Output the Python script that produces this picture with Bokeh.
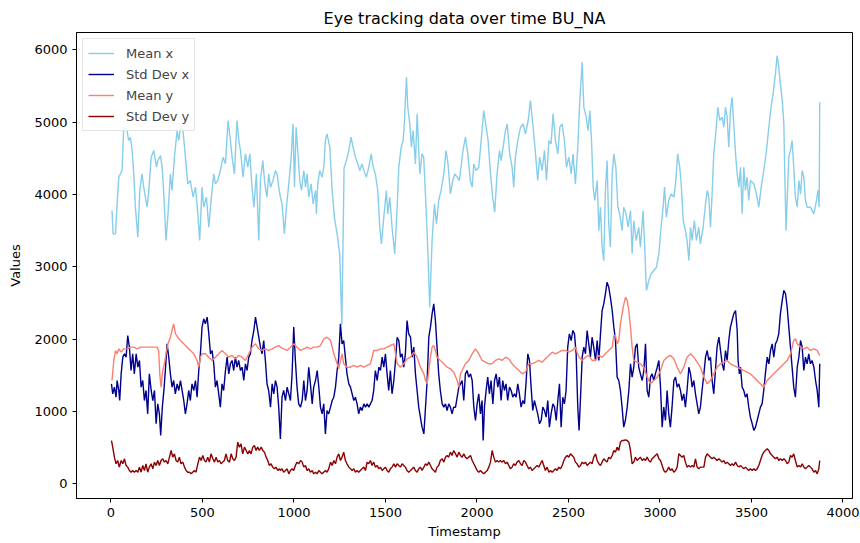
from bokeh.plotting import figure
from bokeh.models import Range1d, FixedTicker, Legend, LegendItem, ColumnDataSource
from bokeh.embed import file_html
from bokeh.resources import INLINE

# Eye tracking aggregates sampled along the timestamp axis
mean_x_t = [6, 12, 25, 34, 43, 61, 70, 88, 97, 106, 116, 125, 134, 147, 158, 170, 179, 198, 207, 220,
            234, 249, 256, 271, 280, 289, 301, 312, 325, 334, 347, 362, 371, 380, 394, 407, 420, 434, 449, 462,
            475, 485, 498, 507, 522, 535, 549, 562, 571, 584, 598, 613, 626, 640, 653, 662, 675, 689, 699, 708,
            722, 735, 748, 759, 771, 781, 795, 808, 817, 830, 841, 853, 862, 872, 886, 899, 908, 917,
            926, 935, 948, 959, 972, 985, 995, 1003, 1012, 1021, 1032, 1041, 1054, 1063, 1072, 1081, 1094, 1105,
            1118, 1123, 1130, 1141, 1154, 1163, 1172, 1181, 1196, 1209, 1221, 1236, 1250, 1262, 1274, 1287, 1300,
            1312, 1323, 1336, 1349, 1360, 1372, 1382, 1396, 1409, 1422, 1433, 1445, 1458, 1469, 1478, 1491, 1505,
            1513, 1524, 1536, 1551, 1564, 1573, 1586, 1597, 1604, 1615, 1622, 1633, 1642, 1651, 1664, 1673, 1688,
            1700, 1709, 1722, 1733, 1742, 1755, 1768, 1779, 1791, 1804, 1819, 1831, 1842, 1855, 1868, 1879, 1892,
            1904, 1924, 1937, 1950, 1964, 1974, 1983, 1995, 2010, 2023, 2037, 2050, 2061, 2074, 2086, 2097, 2110,
            2123, 2132, 2143, 2156, 2165, 2179, 2192, 2201, 2210, 2223, 2238, 2252, 2265, 2280, 2292, 2307, 2320,
            2332, 2343, 2356, 2369, 2380, 2393, 2405, 2416, 2429, 2442, 2453, 2465, 2478, 2489, 2502, 2515, 2525,
            2538, 2551, 2562, 2575, 2584, 2597, 2607, 2617, 2626, 2635, 2644, 2657, 2666, 2675, 2684, 2693, 2702,
            2711, 2720, 2729, 2739, 2748, 2759, 2770, 2780, 2793, 2802, 2815, 2826, 2839, 2848, 2857, 2870, 2884,
            2893, 2908, 2915, 2926, 2939, 2952, 2966, 2981, 2994, 3006, 3017, 3025, 3035, 3048, 3061, 3076, 3085,
            3097, 3108, 3116, 3127, 3139, 3148, 3158, 3167, 3176, 3188, 3199, 3212, 3221, 3236, 3249, 3258, 3267,
            3276, 3285, 3294, 3303, 3316, 3327, 3340, 3349, 3358, 3367, 3376, 3385, 3394, 3403, 3413, 3422, 3431,
            3440, 3449, 3458, 3467, 3476, 3485, 3494, 3513, 3527, 3540, 3553, 3567, 3582, 3595, 3607, 3618, 3631,
            3640, 3649, 3658, 3668, 3677, 3682, 3689, 3695, 3704, 3713, 3722, 3731, 3740, 3750, 3759, 3768, 3777,
            3786, 3795, 3804, 3822, 3841, 3855, 3864, 3870, 3873]
mean_x = [3780, 3457, 3457, 3872, 4241, 4333, 4932, 4886, 4748, 4794, 4610, 4287, 3826, 3411, 4057, 4287, 4103, 3826, 4057, 4518,
          4610, 4379, 4471, 4540, 4379, 4010, 3365, 3734, 4287, 4057, 4518, 4886, 4748, 4932, 4886, 4518, 4149, 4195, 3964, 4103,
          3734, 3365, 4103, 3826, 3964, 3549, 3964, 4287, 4149, 4195, 4333, 4518, 4425, 5025, 4748, 4518, 4287, 5025, 4748, 4610,
          4241, 4564, 4379, 4564, 4103, 3826, 4287, 3365, 4195, 4471, 4149, 3964, 4287, 4103, 4195, 4333, 4287, 4103,
          3964, 3872, 3457, 3826, 4149, 4518, 4978, 4103, 4932, 4610, 4195, 4057, 4333, 4103, 4287, 3964, 4149, 3872,
          4057, 3734, 4149, 4333, 4241, 4379, 4748, 4840, 4656, 4057, 3688, 3457, 3181, 2200, 4370, 4471, 4610,
          4794, 4656, 4518, 4425, 4333, 4425, 4333, 4241, 4379, 4564, 4379, 4287, 4057, 3549, 3319, 3688, 4057,
          3734, 3964, 3549, 3181, 3826, 4379, 4656, 4748, 5025, 5624, 5209, 4978, 4656, 4886, 4425, 5117, 4287,
          4564, 4518, 3826, 3135, 2443, 3365, 3872, 3596, 3918, 4057, 4287, 4610, 4425, 4010, 4195, 4287, 4241,
          4195, 4610, 4794, 4564, 4195, 4103, 4425, 4333, 4379, 4748, 5163, 4932, 4748, 4287, 3964, 3757, 4287,
          4610, 4471, 4656, 4886, 4978, 4564, 4379, 4103, 4518, 4748, 4932, 4978, 4840, 5025, 5301, 4932, 4564,
          4195, 4518, 4333, 4610, 4195, 4748, 4702, 5117, 4748, 4564, 4932, 4978, 4748, 4379, 4518, 4287, 4564,
          4149, 4656, 5301, 5831, 5209, 5071, 4886, 5163, 4748, 4103, 3918, 4195, 3503, 3826, 3273, 3088, 4057,
          4471, 3596, 3273, 4287, 4564, 4379, 3826, 3734, 3503, 3826, 3734, 3549, 3780, 3181, 3642, 3365, 3549,
          3273, 3780, 3365, 2674, 2812, 2904, 2950, 2996, 3181, 3549, 3826, 4103, 3688, 3918, 4010, 3964, 4149,
          4564, 4379, 4149, 3642, 3503, 3365, 3088, 3549, 3365, 3642, 3365, 3549, 3319, 3549, 3872, 4057, 3964,
          3549, 4010, 4564, 4794, 5209, 5025, 5071, 4932, 5209, 5071, 4656, 5163, 5347, 4978, 4564, 4287, 4103,
          4379, 3734, 4379, 4057, 4241, 3918, 4195, 4149, 4010, 3826, 4103, 4333, 4610, 4932, 5209, 5393, 5670,
          5924, 5762, 5532, 5301, 4978, 4287, 3503, 3918, 4518, 4610, 4748, 4379, 3964, 3826, 4195, 4010, 4333,
          4241, 3918, 3826, 3826, 3734, 3918, 4057, 3826, 5278]

std_x_t = [3, 10, 19, 28, 34, 43, 48, 56, 65, 74, 83, 92, 101, 110, 119, 128, 138, 147, 156, 165,
           174, 183, 192, 201, 210, 220, 229, 238, 247, 256, 265, 272, 281, 291, 300, 307, 316, 325, 334, 343,
           352, 362, 371, 380, 389, 398, 407, 416, 425, 434, 443, 453, 462, 471, 480, 489, 498, 507, 516, 526,
           535, 544, 553, 562, 571, 580, 589, 598, 607, 616, 626, 635, 644, 653, 662, 671, 680, 689, 698, 708,
           717, 726, 735, 744, 753, 762, 771, 781, 790, 799, 808, 817, 826, 835, 844, 853, 862, 872, 881, 890,
           899, 908, 917, 926, 935, 944, 954, 963, 972, 981, 990, 999, 1008, 1017, 1026, 1036, 1045, 1054, 1063,
           1072, 1081, 1090, 1100, 1108, 1118, 1127, 1136, 1145, 1154, 1163, 1172, 1181, 1190, 1200, 1209, 1218,
           1227, 1236, 1245, 1254, 1263, 1272, 1281, 1290, 1300, 1309, 1318, 1327, 1336, 1345, 1354, 1363, 1372,
           1382, 1391, 1400, 1409, 1418, 1427, 1436, 1445, 1455, 1464, 1473, 1482, 1491, 1500, 1509, 1518, 1527,
           1536, 1546, 1555, 1564, 1573, 1582, 1591, 1600, 1609, 1618, 1627, 1637, 1646, 1655, 1664, 1673, 1682,
           1691, 1700, 1710, 1719, 1728, 1737, 1746, 1755, 1764, 1773, 1782, 1791, 1800, 1810, 1819, 1828, 1837,
           1846, 1855, 1864, 1873, 1883, 1892, 1901, 1910, 1919, 1928, 1937, 1946, 1955, 1965, 1974, 1983, 1992,
           2001, 2010, 2019, 2028, 2034, 2041, 2050, 2059, 2068, 2077, 2087, 2096, 2105, 2114, 2123, 2132, 2141,
           2150, 2159, 2168, 2178, 2187, 2196, 2205, 2214, 2223, 2232, 2241, 2251, 2260, 2269, 2278, 2287, 2296,
           2305, 2314, 2323, 2332, 2342, 2351, 2360, 2369, 2378, 2387, 2396, 2405, 2415, 2424, 2433, 2442, 2451,
           2460, 2469, 2478, 2487, 2496, 2505, 2515, 2524, 2533, 2542, 2551, 2558, 2566, 2575, 2584, 2593, 2602,
           2611, 2620, 2629, 2638, 2648, 2657, 2666, 2675, 2684, 2693, 2702, 2711, 2720, 2729, 2739, 2748, 2757,
           2766, 2775, 2784, 2793, 2802, 2811, 2821, 2830, 2839, 2848, 2857, 2866, 2875, 2884, 2893, 2903, 2912,
           2921, 2930, 2939, 2948, 2957, 2966, 2975, 2985, 2994, 3003, 3012, 3021, 3030, 3039, 3048, 3057, 3066,
           3076, 3085, 3094, 3103, 3112, 3121, 3130, 3139, 3148, 3158, 3167, 3176, 3185, 3194, 3203, 3212, 3221,
           3230, 3240, 3249, 3258, 3267, 3276, 3285, 3294, 3303, 3312, 3322, 3331, 3340, 3349, 3358, 3367, 3376,
           3385, 3394, 3403, 3413, 3422, 3427, 3434, 3440, 3449, 3458, 3467, 3476, 3485, 3494, 3504, 3513, 3522,
           3531, 3540, 3549, 3558, 3567, 3576, 3586, 3595, 3604, 3613, 3622, 3631, 3640, 3649, 3658, 3668, 3677,
           3686, 3695, 3704, 3713, 3722, 3731, 3740, 3750, 3759, 3768, 3777, 3786, 3795, 3804, 3813, 3822, 3831,
           3841, 3850, 3859, 3868, 3873]
std_x = [1383, 1245, 1337, 1198, 1429, 1291, 1152, 1521, 1752, 1798, 1752, 2051, 1890, 1567, 1798, 1521, 1798, 1613, 1706, 1337,
         1429, 1152, 1291, 968, 1521, 1291, 1152, 1291, 830, 1106, 968, 669, 1060, 1337, 1660, 1936, 1752, 1521, 1337, 1429,
         1245, 1383, 1291, 1429, 1291, 1152, 968, 1106, 1291, 1152, 1383, 1291, 1429, 1198, 1567, 1798, 2167, 2282, 2213, 2305,
         2074, 1798, 1844, 1660, 1337, 1429, 1245, 1060, 1383, 1291, 1567, 1752, 1521, 1660, 1706, 1567, 1752, 1613, 1706, 1567,
         1613, 1429, 1660, 1567, 1752, 1798, 1982, 2121, 2305, 2167, 2028, 1890, 1798, 1982, 1706, 1383, 1291, 1060, 1383, 1245,
         1429, 1337, 1060, 620, 1198, 1291, 1152, 1337, 1245, 1152, 1521, 2167, 1706, 1337, 1106, 1060, 1152, 1429, 1152,
         1291, 1613, 1383, 1106, 1337, 1429, 1567, 1337, 1060, 968, 1106, 691, 1014, 968, 1060, 1152, 1198,
         1337, 1567, 1752, 2213, 1936, 1982, 1752, 1521, 1383, 1337, 1245, 1152, 1198, 1106, 968, 1060, 1014,
         1106, 1060, 1106, 1060, 1106, 1152, 1291, 1567, 1429, 1613, 1567, 1752, 1613, 1798, 1521, 1291, 1567,
         1245, 1429, 1706, 2028, 1982, 1752, 1798, 1613, 1798, 2259, 2074, 2028, 1752, 1890, 1521, 1291, 1060,
         922, 784, 691, 1060, 1429, 2028, 2167, 2351, 2489, 2259, 1890, 1521, 1291, 1106, 1060, 1106, 1014,
         1106, 1060, 968, 1060, 1060, 1198, 1337, 1383, 1429, 1152, 1521, 1567, 1475, 1521, 1429, 1060, 876,
         1106, 1245, 968, 1152, 599, 1060, 1291, 1475, 1245, 1429, 1106, 1429, 1521, 1337, 1475, 1152, 1429,
         1291, 1383, 1152, 1337, 1291, 1198, 1245, 1198, 1383, 1245, 1060, 1152, 1106, 1429, 1798, 1706, 1337,
         1014, 1152, 1060, 968, 830, 876, 1060, 1014, 922, 1152, 784, 968, 1106, 1060, 876, 1152, 1383,
         784, 1198, 1106, 1291, 1890, 2074, 1982, 2121, 2074, 1798, 1060, 738, 1198, 1752, 1890, 1798, 2121,
         1936, 1752, 2028, 1890, 1706, 1982, 1706, 2074, 2397, 2489, 2628, 2789, 2720, 2582, 2397, 2167, 1982,
         1475, 1429, 1291, 1060, 784, 876, 1060, 1291, 1660, 1475, 1613, 1890, 1936, 1613, 1521, 1429, 1567,
         1936, 1291, 1198, 1475, 1521, 1429, 1521, 1613, 1706, 1337, 784, 1060, 876, 1291, 968, 784, 1060,
         1429, 1475, 1337, 1383, 1291, 1152, 1245, 1060, 1291, 1613, 1521, 1337, 1429, 1245, 1106, 968, 1060,
         1291, 1521, 1752, 1844, 1706, 1752, 1429, 1245, 1567, 1890, 2028, 1844, 1660, 1567, 1844, 1706, 1982,
         2167, 2259, 2351, 2397, 2121, 1706, 1521, 1613, 1337, 1291, 1198, 1245, 1060, 922, 830, 738, 784,
         876, 968, 1060, 1106, 1291, 1521, 1752, 1660, 1844, 1936, 1752, 1936, 1982, 2074, 2351, 2536, 2674,
         2628, 2443, 2167, 1890, 1613, 1337, 1198, 1613, 1752, 1982, 1890, 1567, 1752, 1660, 1798, 1660, 1706,
         1613, 1429, 1291, 1060, 1660]

mean_y_t = [6, 16, 25, 34, 43, 56, 70, 88, 107, 125, 143, 161, 179, 198, 216, 234, 252, 261, 267, 274,
            283, 292, 301, 312, 325, 334, 343, 353, 365, 380, 398, 416, 434, 453, 471, 480, 489, 498, 516, 535,
            553, 571, 589, 607, 626, 644, 662, 680, 698, 717, 735, 753, 771, 790, 808, 826, 844, 862, 881, 899,
            917, 926, 944, 963, 981, 999, 1017, 1036, 1054, 1072, 1090, 1108, 1127, 1145, 1163, 1181, 1200, 1218,
            1236, 1245, 1254, 1263, 1272, 1290, 1309, 1327, 1345, 1363, 1382, 1400, 1418, 1436, 1455, 1473, 1491,
            1509, 1527, 1546, 1555, 1564, 1582, 1600, 1618, 1637, 1655, 1673, 1691, 1710, 1719, 1728, 1737, 1746,
            1755, 1764, 1773, 1782, 1800, 1819, 1837, 1855, 1873, 1892, 1901, 1910, 1919, 1937, 1955, 1974, 1992,
            2010, 2028, 2046, 2065, 2083, 2101, 2119, 2137, 2156, 2174, 2192, 2210, 2229, 2247, 2265, 2283, 2301,
            2320, 2338, 2356, 2374, 2393, 2411, 2429, 2447, 2466, 2484, 2502, 2520, 2538, 2557, 2575, 2593, 2611,
            2629, 2648, 2666, 2684, 2702, 2720, 2739, 2748, 2757, 2766, 2775, 2784, 2799, 2812, 2821, 2830, 2839,
            2848, 2857, 2875, 2893, 2912, 2930, 2948, 2966, 2985, 3003, 3021, 3039, 3057, 3076, 3094, 3112, 3130,
            3148, 3167, 3185, 3203, 3221, 3240, 3258, 3276, 3294, 3312, 3331, 3349, 3367, 3385, 3403, 3422, 3440,
            3458, 3476, 3494, 3513, 3531, 3549, 3567, 3576, 3586, 3604, 3622, 3640, 3658, 3677, 3695, 3713, 3731,
            3740, 3750, 3768, 3786, 3804, 3822, 3841, 3859, 3873]
mean_y = [1429, 1706, 1844, 1798, 1867, 1821, 1867, 1867, 1890, 1890, 1867, 1890, 1890, 1890, 1890, 1890, 1890, 1844, 1521, 1337,
          1567, 1660, 1798, 1936, 2028, 2121, 2213, 2074, 2028, 1982, 1936, 1890, 1844, 1798, 1706, 1613, 1752, 1798, 1798, 1752,
          1706, 1752, 1798, 1844, 1798, 1752, 1775, 1729, 1775, 1752, 1706, 1798, 1890, 1936, 1867, 1844, 1867, 1844, 1867, 1890,
          1913, 1890, 1867, 1844, 1890, 1936, 1890, 1844, 1867, 1890, 1867, 1890, 1890, 1913, 2005, 2028, 1982, 1798,
          1660, 1590, 1706, 1798, 1660, 1613, 1613, 1637, 1613, 1637, 1613, 1637, 1660, 1844, 1844, 1867, 1867,
          1890, 1913, 1936, 1798, 1660, 1613, 1660, 1729, 1752, 1821, 1752, 1613, 1521, 1429, 1383, 1567, 1752,
          1890, 1913, 1844, 1752, 1706, 1660, 1613, 1590, 1544, 1429, 1337, 1521, 1567, 1660, 1706, 1798, 1867,
          1798, 1706, 1683, 1660, 1660, 1706, 1729, 1706, 1752, 1729, 1660, 1613, 1567, 1521, 1544, 1660, 1660,
          1683, 1706, 1683, 1729, 1775, 1821, 1798, 1821, 1844, 1844, 1821, 1844, 1890, 1752, 1706, 1752, 1775,
          1706, 1706, 1775, 1752, 1798, 1844, 1890, 2051, 2051, 1936, 1982, 2213, 2443, 2582, 2536, 2397, 2167,
          1890, 1706, 1683, 1660, 1613, 1475, 1383, 1429, 1475, 1567, 1706, 1752, 1775, 1729, 1613, 1521, 1613,
          1752, 1798, 1752, 1683, 1613, 1475, 1383, 1429, 1521, 1613, 1660, 1683, 1706, 1660, 1637, 1613, 1590,
          1567, 1544, 1521, 1475, 1429, 1383, 1337, 1383, 1429, 1475, 1521, 1567, 1613, 1660, 1706, 1798, 1982,
          2005, 1936, 1890, 1867, 1890, 1844, 1867, 1844, 1775]

std_y_t = [3, 10, 19, 28, 37, 46, 56, 65, 74, 83, 92, 101, 110, 119, 128, 138, 147, 156, 165, 174,
           183, 192, 201, 210, 220, 229, 238, 247, 256, 265, 274, 283, 292, 301, 311, 320, 329, 338, 347, 356,
           365, 374, 383, 393, 402, 411, 420, 429, 438, 447, 456, 465, 475, 484, 493, 502, 511, 520, 529, 538,
           547, 557, 566, 575, 584, 593, 602, 611, 620, 629, 638, 648, 657, 666, 675, 684, 693, 702, 711, 720,
           730, 739, 748, 757, 766, 775, 784, 793, 802, 811, 821, 830, 839, 848, 857, 866, 875, 884, 893, 902,
           912, 921, 926, 935, 944, 954, 963, 972, 981, 990, 999, 1008, 1017, 1026, 1036, 1045, 1054, 1063, 1072,
           1081, 1090, 1100, 1108, 1118, 1127, 1136, 1145, 1154, 1163, 1172, 1181, 1190, 1200, 1209, 1218, 1227,
           1236, 1245, 1254, 1263, 1272, 1281, 1290, 1300, 1309, 1318, 1327, 1336, 1345, 1354, 1363, 1372, 1382,
           1391, 1400, 1409, 1418, 1427, 1436, 1445, 1455, 1464, 1473, 1482, 1491, 1500, 1509, 1518, 1527, 1536,
           1546, 1555, 1564, 1573, 1582, 1591, 1600, 1609, 1618, 1627, 1637, 1646, 1655, 1664, 1673, 1682, 1691,
           1700, 1710, 1719, 1728, 1737, 1746, 1755, 1764, 1773, 1782, 1791, 1800, 1810, 1819, 1828, 1837, 1846,
           1855, 1864, 1873, 1883, 1892, 1901, 1910, 1919, 1928, 1937, 1946, 1955, 1965, 1974, 1983, 1992, 2001,
           2010, 2019, 2028, 2037, 2046, 2056, 2065, 2074, 2083, 2092, 2101, 2110, 2119, 2128, 2137, 2147, 2156,
           2165, 2174, 2183, 2192, 2201, 2210, 2219, 2229, 2238, 2247, 2256, 2265, 2274, 2283, 2292, 2301, 2311,
           2320, 2329, 2338, 2347, 2356, 2365, 2374, 2383, 2393, 2402, 2411, 2420, 2429, 2438, 2447, 2456, 2466,
           2475, 2484, 2493, 2502, 2511, 2520, 2529, 2538, 2547, 2557, 2566, 2575, 2584, 2593, 2602, 2611, 2620,
           2629, 2638, 2648, 2657, 2666, 2675, 2684, 2693, 2702, 2711, 2720, 2729, 2739, 2748, 2757, 2766, 2775,
           2784, 2793, 2802, 2811, 2821, 2830, 2839, 2848, 2857, 2866, 2875, 2884, 2893, 2903, 2912, 2921, 2930,
           2939, 2948, 2957, 2966, 2975, 2985, 2994, 3003, 3012, 3021, 3030, 3039, 3048, 3057, 3066, 3076, 3085,
           3094, 3103, 3112, 3121, 3130, 3139, 3148, 3158, 3167, 3176, 3185, 3194, 3203, 3212, 3221, 3230, 3240,
           3249, 3258, 3267, 3276, 3285, 3294, 3303, 3312, 3322, 3331, 3340, 3349, 3358, 3367, 3376, 3385, 3394,
           3403, 3413, 3422, 3431, 3440, 3449, 3458, 3467, 3476, 3485, 3494, 3504, 3513, 3522, 3531, 3540, 3549,
           3558, 3567, 3576, 3586, 3595, 3604, 3613, 3622, 3631, 3640, 3649, 3658, 3668, 3677, 3686, 3695, 3704,
           3713, 3722, 3731, 3740, 3750, 3759, 3768, 3777, 3786, 3795, 3804, 3813, 3822, 3831, 3841, 3850, 3859,
           3868, 3873]
std_y = [599, 507, 369, 277, 323, 231, 323, 277, 346, 254, 231, 184, 161, 184, 161, 184, 161, 231, 161, 254,
         184, 277, 161, 231, 277, 207, 300, 254, 323, 254, 323, 346, 300, 323, 277, 369, 461, 369, 415, 323,
         300, 369, 277, 300, 231, 184, 161, 161, 138, 161, 184, 161, 277, 369, 323, 392, 323, 300, 369, 300,
         415, 346, 300, 369, 300, 323, 277, 300, 323, 415, 323, 300, 415, 346, 323, 369, 576, 507, 553, 415,
         507, 461, 415, 461, 415, 507, 530, 461, 507, 461, 507, 461, 438, 369, 323, 254, 277, 231, 207, 231,
         184, 207, 184, 207, 161, 184, 207, 138, 184, 207, 184, 254, 300, 277, 323, 300, 231, 254, 184,
         207, 161, 184, 138, 161, 138, 184, 161, 138, 161, 184, 161, 207, 300, 254, 323, 277,
         369, 415, 323, 369, 438, 323, 277, 231, 207, 184, 207, 161, 184, 161, 184, 207, 231,
         184, 300, 277, 323, 254, 300, 231, 254, 207, 231, 184, 207, 231, 184, 161, 207, 231,
         277, 231, 277, 254, 231, 277, 254, 231, 184, 161, 184, 207, 231, 184, 161, 207, 231,
         184, 231, 277, 254, 300, 254, 207, 184, 161, 231, 254, 323, 346, 300, 369, 392, 369,
         438, 392, 461, 415, 369, 438, 392, 369, 415, 369, 346, 369, 392, 323, 277, 231, 184,
         161, 184, 161, 138, 161, 184, 231, 300, 461, 369, 300, 323, 300, 323, 300, 323, 277,
         300, 254, 207, 231, 277, 254, 300, 323, 277, 254, 323, 300, 254, 207, 231, 184, 207,
         231, 254, 231, 277, 323, 254, 184, 231, 161, 184, 161, 184, 207, 184, 231, 207, 254,
         323, 369, 392, 369, 415, 392, 369, 300, 277, 231, 254, 300, 277, 300, 254, 277, 300,
         277, 369, 415, 323, 277, 254, 300, 346, 323, 300, 369, 346, 392, 461, 438, 507, 461,
         576, 599, 599, 608, 599, 576, 461, 277, 300, 369, 323, 346, 369, 323, 346, 323, 369,
         323, 300, 346, 369, 392, 415, 346, 323, 254, 184, 161, 184, 231, 184, 207, 161, 184,
         231, 415, 392, 369, 392, 300, 231, 254, 231, 254, 231, 346, 231, 207, 231, 231, 231,
         369, 415, 392, 369, 346, 369, 346, 323, 346, 323, 300, 323, 277, 300, 277, 254, 277,
         254, 300, 254, 231, 254, 231, 207, 231, 207, 184, 207, 184, 207, 184, 207, 254, 323,
         392, 438, 461, 484, 461, 415, 392, 369, 346, 369, 323, 346, 323, 346, 323, 277, 300,
         392, 369, 415, 323, 231, 254, 231, 277, 231, 207, 231, 254, 231, 207, 161, 184, 138,
         207, 323]

x_ticks = [0, 500, 1000, 1500, 2000, 2500, 3000, 3500, 4000]
y_ticks = [0, 1000, 2000, 3000, 4000, 5000, 6000]

series = [
    ("Mean x", mean_x_t, mean_x, "#87ceeb"),
    ("Std Dev x", std_x_t, std_x, "#00008b"),
    ("Mean y", mean_y_t, mean_y, "#fa8072"),
    ("Std Dev y", std_y_t, std_y, "#8b0000"),
]

FONT = "DejaVu Sans"

p = figure(width=860, height=543, output_backend="svg", toolbar_location=None,
           x_range=Range1d(-188, 4052), y_range=Range1d(-203, 6242),
           title="Eye tracking data over time BU_NA",
           min_border_left=76, min_border_right=8, min_border_top=32, min_border_bottom=45)
p.background_fill_color = "white"
p.border_fill_color = "white"
p.grid.visible = False
p.outline_line_color = "black"
p.outline_line_width = 1
p.outline_line_alpha = 1

p.title.align = "center"
p.title.text_font = FONT
p.title.text_font_size = "16px"
p.title.text_font_style = "normal"
p.title.text_color = "black"

for ax in (p.xaxis[0], p.yaxis[0]):
    ax.major_label_text_font = FONT
    ax.major_label_text_font_size = "13px"
    ax.major_label_text_color = "black"
    ax.axis_label_text_font = FONT
    ax.axis_label_text_font_size = "13px"
    ax.axis_label_text_font_style = "normal"
    ax.axis_label_text_color = "black"
    ax.minor_tick_line_color = None
    ax.major_tick_out = 4
    ax.major_tick_in = 0
    ax.major_tick_line_color = "black"
    ax.axis_line_color = "black"

p.xaxis.ticker = FixedTicker(ticks=x_ticks)
p.yaxis.ticker = FixedTicker(ticks=y_ticks)
p.xaxis.axis_label = "Timestamp"
p.yaxis.axis_label = "Values"
p.xaxis.axis_label_standoff = 4
p.yaxis.axis_label_standoff = 8

items = []
for name, t, v, color in series:
    src = ColumnDataSource(data=dict(t=t, v=v))
    r = p.line("t", "v", source=src, line_color=color, line_width=1.4)
    items.append(LegendItem(label=name, renderers=[r]))

legend = Legend(items=items, location="top_left")
legend.margin = 6
legend.padding = 5
legend.spacing = 3
legend.label_height = 18
legend.glyph_height = 18
legend.glyph_width = 26
legend.label_standoff = 12
legend.label_text_font = FONT
legend.label_text_font_size = "13px"
legend.border_line_color = "#cccccc"
legend.border_line_width = 1
legend.background_fill_alpha = 0.8
p.add_layout(legend)

open("out.html", "w").write(file_html(p, INLINE))
